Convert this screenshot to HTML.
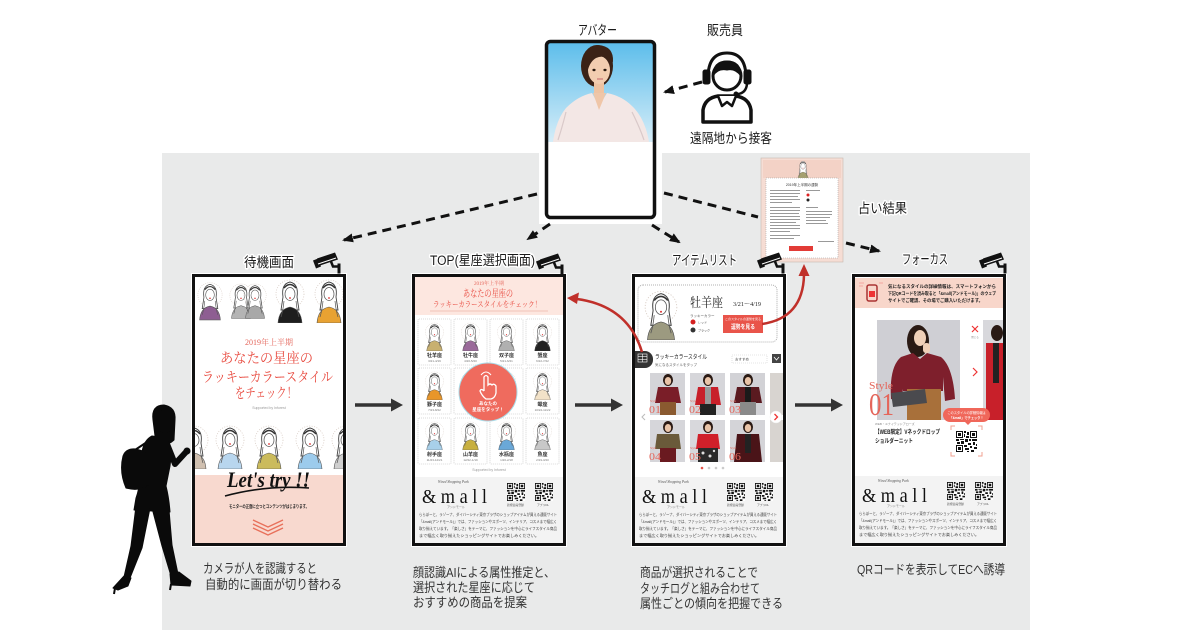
<!DOCTYPE html>
<html><head><meta charset="utf-8">
<style>
html,body{margin:0;padding:0;background:#fff}
svg{display:block}
.s{font-family:"Liberation Sans","Noto Sans CJK JP",sans-serif}
.m{font-family:"Liberation Serif","Noto Serif CJK SC",serif}
.lbl{font-family:"Liberation Sans","Noto Sans CJK JP",sans-serif;font-size:13.5px;fill:#1a1a1a;paint-order:stroke;stroke:#fff;stroke-width:3px;stroke-linejoin:round}
.cap{font-family:"Liberation Sans","Noto Sans CJK JP",sans-serif;font-size:13px;fill:#333}
</style></head><body>
<svg width="1200" height="630" viewBox="0 0 1200 630" xmlns="http://www.w3.org/2000/svg">
<defs>
<linearGradient id="sky" x1="0" y1="0" x2="0" y2="1"><stop offset="0" stop-color="#5cbdeb"/><stop offset="1" stop-color="#d6edf8"/></linearGradient>
<clipPath id="cl"><rect width="148" height="266"/></clipPath>
<symbol id="girl" viewBox="0 0 30 46">
<circle cx="15" cy="17" r="14" fill="none" stroke="#d8ccc4" stroke-width=".8" stroke-dasharray="1 1.5"/>
<path d="M8 20 Q6 7 15 5 Q24 7 22 20 L24 33 L6 33 Z" fill="#fff" stroke="#444" stroke-width=".9"/>
<ellipse cx="15" cy="17" rx="5" ry="6.5" fill="#fff" stroke="#555" stroke-width=".7"/>
<path d="M9 11 Q15 4 21 11" stroke="#333" fill="none" stroke-width="1.4"/>
<circle cx="15" cy="21" r=".9" fill="#d33"/>
<path d="M3 46 Q4 32 15 30 Q26 32 27 46 Z" fill="currentColor" stroke="#555" stroke-width=".6"/>
<path d="M9 24 Q8 34 6 40 M21 24 Q22 34 24 40" stroke="#555" fill="none" stroke-width=".7"/>
</symbol>
<symbol id="qr" viewBox="0 0 21 21">
<rect width="21" height="21" fill="#fff"/>
<path d="M0 0h7v7H0zM14 0h7v7h-7zM0 14h7v7H0z" fill="#111"/>
<path d="M1 1h5v5H1zM15 1h5v5h-5zM1 15h5v5H1z" fill="#fff"/>
<path d="M2 2h3v3H2zM16 2h3v3h-3zM2 16h3v3H2zM8 0h2v2H8zM11 1h2v3h-2zM8 3h1v3H8zM10 5h3v2h-3zM0 8h3v2H0zM4 8h4v1H4zM9 8h3v3H9zM13 8h2v2h-2zM16 8h5v2h-5zM1 11h3v2H1zM5 10h3v3H5zM12 12h3v2h-3zM17 11h2v3h-2zM8 14h3v2H8zM14 15h2v2h-2zM18 16h3v2h-3zM9 17h4v2H9zM15 19h3v2h-3zM11 20h2v1h-2zM20 13h1v2h-1z" fill="#111"/>
</symbol>
<symbol id="cam" viewBox="0 0 30 22">
<polygon points="5,7 23,1 26,8 8,14" fill="#111"/>
<polygon points="1,9 6,7 9,15 4,17" fill="#111"/>
<line x1="6" y1="12.5" x2="24" y2="6.5" stroke="#fff" stroke-width="1"/>
<path d="M19 10 L21 15 L27 15" stroke="#111" stroke-width="2.5" fill="none"/>
<line x1="27" y1="12" x2="27" y2="22" stroke="#111" stroke-width="3"/>
</symbol>
<marker id="ah" markerWidth="11" markerHeight="9" refX="9" refY="4.5" orient="auto" markerUnits="userSpaceOnUse"><path d="M0,0 L11,4.5 L0,9 Z" fill="#111"/></marker>
</defs>

<!-- gray background -->
<rect x="162" y="153" width="868" height="477" fill="#e9eaea"/>

<!-- top labels -->
<text class="lbl" x="578" y="35" textLength="39" lengthAdjust="spacingAndGlyphs">アバター</text>
<text class="lbl" x="707" y="35" textLength="36" lengthAdjust="spacingAndGlyphs">販売員</text>
<text class="lbl" x="690" y="143" textLength="82" lengthAdjust="spacingAndGlyphs">遠隔地から接客</text>
<text class="lbl" x="858" y="213" textLength="49" lengthAdjust="spacingAndGlyphs">占い結果</text>

<!-- headset icon -->
<g stroke="#111" stroke-linejoin="round">
<path d="M703 122 L703 110 Q705 98 718 96 L736 96 Q749 98 751 110 L751 122 Z" fill="#fff" stroke-width="3.5"/>
<path d="M718 96 L722 106 L727 102 L732 106 L736 96" fill="#fff" stroke-width="2.5"/>
<circle cx="727" cy="76" r="14" fill="#fff" stroke-width="3"/>
<path d="M713 76 Q713 61 727 61 Q741 61 741 76 Q735 68 727 70 Q718 68 713 76 Z" fill="#111" stroke-width="1"/>
<path d="M708 78 Q708 53 727 53 Q746 53 746 78" fill="none" stroke-width="3"/>
<rect x="703" y="70" width="7" height="14" rx="2" fill="#111" stroke-width="1"/>
<rect x="744" y="70" width="7" height="14" rx="2" fill="#111" stroke-width="1"/>
<path d="M747 84 Q746 93 738 94" fill="none" stroke-width="2.5"/>
<circle cx="736" cy="94" r="2" fill="#111" stroke-width="1"/>
</g>

<!-- avatar box -->
<rect x="539" y="36" width="123" height="188" fill="#fff"/>
<rect x="547" y="42" width="107" height="100" fill="url(#sky)"/>
<ellipse cx="597" cy="66" rx="16" ry="21" fill="#3b2216"/>
<rect x="594" y="80" width="10" height="15" fill="#eec3a2"/>
<path d="M553 142 Q556 120 566 108 Q578 96 592 93 L599 106 L607 93 Q622 96 632 106 Q645 118 649 142 Z" fill="#f3e7e5"/>
<path d="M593 93 L599 110 L606 93 Z" fill="#efc6a8"/>
<path d="M566 112 Q562 128 558 140 M632 112 Q640 128 644 140" stroke="#d9c9c9" stroke-width="1.2" fill="none"/>
<ellipse cx="599" cy="70" rx="11" ry="14" fill="#f2cdb0"/>
<path d="M584 68 Q582 46 598 45 Q614 46 613 62 Q605 54 596 58 Q589 62 587 74 Z" fill="#3b2216"/>
<ellipse cx="594" cy="70" rx="1.6" ry="1.2" fill="#2a1a10"/>
<ellipse cx="605" cy="70" rx="1.6" ry="1.2" fill="#2a1a10"/>
<path d="M597 79 L603 79" stroke="#c77" stroke-width="1.2"/>
<rect x="546.5" y="41.5" width="108" height="176" rx="4" fill="none" stroke="#111" stroke-width="3.5"/>

<!-- dashed connectors -->
<g stroke="#111" stroke-width="3" stroke-dasharray="9 6" fill="none">
<path d="M702 82 L665 92" marker-end="url(#ah)"/>
<path d="M537 194 L344 240" marker-end="url(#ah)"/>
<path d="M550 224 L528 239" marker-end="url(#ah)"/>
<path d="M652 225 L679 242" marker-end="url(#ah)"/>
<path d="M664 193 L758 217"/>
<path d="M846 243 L879 251" marker-end="url(#ah)"/>
</g>

<!-- fortune card -->
<g>
<rect x="761" y="158" width="82" height="104" fill="#f6ddd4" stroke="#c8b8b0" stroke-width=".6"/>
<rect x="763" y="160" width="78" height="18" fill="#f3d2c6"/>
<use href="#girl" x="795" y="159" width="16" height="20" color="#a5a070"/>
<rect x="766" y="178" width="72" height="80" fill="#fff" stroke="#999" stroke-width=".5" stroke-dasharray="1 1"/>
<text x="802" y="186" text-anchor="middle" class="s" font-size="3.5" fill="#333">2019年上半期の運勢</text>
<g fill="#999">
<rect x="770" y="190" width="30" height="1"/><rect x="770" y="193" width="30" height="1"/><rect x="770" y="196" width="28" height="1"/><rect x="770" y="199" width="30" height="1"/><rect x="770" y="202" width="22" height="1"/>
<rect x="770" y="207" width="30" height="1"/><rect x="770" y="210" width="30" height="1"/><rect x="770" y="213" width="29" height="1"/><rect x="770" y="216" width="30" height="1"/><rect x="770" y="219" width="30" height="1"/><rect x="770" y="222" width="26" height="1"/><rect x="770" y="225" width="30" height="1"/><rect x="770" y="228" width="30" height="1"/><rect x="770" y="231" width="20" height="1"/>
<rect x="770" y="235" width="30" height="1"/><rect x="770" y="238" width="24" height="1"/>
<rect x="806" y="190" width="14" height="1"/><rect x="806" y="207" width="12" height="1"/>
<rect x="806" y="211" width="26" height="1"/><rect x="806" y="214" width="26" height="1"/><rect x="806" y="217" width="24" height="1"/><rect x="806" y="220" width="20" height="1"/><rect x="806" y="223" width="22" height="1"/>
<rect x="818" y="241" width="16" height="1"/>
</g>
<circle cx="808" cy="195" r="1.5" fill="#d22"/><circle cx="808" cy="200" r="1.5" fill="#222"/>
<rect x="789" y="246" width="24" height="5" fill="#e23b36"/>
</g>

<!-- screen labels -->
<text class="lbl" x="244" y="267" textLength="50" lengthAdjust="spacingAndGlyphs">待機画面</text>
<text class="lbl" x="430" y="265" textLength="105" lengthAdjust="spacingAndGlyphs">TOP(星座選択画面)</text>
<text class="lbl" x="672" y="265" textLength="65" lengthAdjust="spacingAndGlyphs">アイテムリスト</text>
<text class="lbl" x="902" y="264" textLength="46" lengthAdjust="spacingAndGlyphs">フォーカス</text>

<!-- ================= SCREEN 1 ================= -->
<g transform="translate(192,274)">
<rect x="-1" y="-1" width="156" height="274" fill="#fff"/>
<g transform="translate(3,3)" clip-path="url(#cl)">
<rect width="148" height="266" fill="#fff"/>
<use href="#girl" x="2" y="0" width="26" height="46" color="#8e5e92"/>
<use href="#girl" x="34" y="0" width="24" height="46" color="#b4b4b4"/>
<use href="#girl" x="48" y="0" width="24" height="46" color="#a8a8a8"/>
<use href="#girl" x="80" y="0" width="30" height="46" color="#1e1e1e"/>
<use href="#girl" x="119" y="0" width="30" height="46" color="#e8a232"/>
<text x="74" y="68" text-anchor="middle" class="m" font-size="8" fill="#e4655a">2019年上半期</text>
<text x="25" y="86" class="m" font-size="14" fill="#e84a3f" textLength="93" lengthAdjust="spacingAndGlyphs">あなたの星座の</text>
<text x="7" y="105" class="m" font-size="14" fill="#e84a3f" textLength="131" lengthAdjust="spacingAndGlyphs">ラッキーカラースタイル</text>
<text x="40" y="121" class="m" font-size="14" fill="#e84a3f" textLength="62" lengthAdjust="spacingAndGlyphs">をチェック！</text>
<text x="74" y="132" text-anchor="middle" class="s" font-size="3.5" fill="#999">Supported by Inforest</text>
<use href="#girl" x="-16" y="146" width="30" height="46" color="#d0c0b0"/>
<use href="#girl" x="19" y="146" width="32" height="46" color="#b8d6ee"/>
<use href="#girl" x="57" y="146" width="34" height="46" color="#cbbb5c"/>
<use href="#girl" x="99" y="146" width="32" height="46" color="#9ccbec"/>
<use href="#girl" x="136" y="146" width="30" height="46" color="#cfcfcf"/>
<rect y="198" width="148" height="68" fill="#f8d9cf"/>
<text x="32" y="210" class="m" font-size="22" font-style="italic" font-weight="bold" fill="#111" textLength="83" lengthAdjust="spacingAndGlyphs">Let's try !!</text>
<path d="M30 219 Q70 208 114 211" stroke="#111" stroke-width="1.6" fill="none"/>
<text x="34" y="231" class="s" font-size="4.5" font-weight="bold" fill="#222" textLength="80" lengthAdjust="spacingAndGlyphs">モニターの正面に立つとコンテンツがはじまります。</text>
<g stroke="#e8705a" stroke-width="1.4" fill="none">
<polyline points="58,243 73,250 88,243"/><polyline points="58,247 73,254 88,247"/><polyline points="58,251 73,258 88,251"/>
</g>
</g>
<rect x="1.5" y="1.5" width="151" height="269" fill="none" stroke="#111" stroke-width="3"/>
</g>

<!-- ================= SCREEN 2 ================= -->
<g transform="translate(412,274)">
<rect x="-1" y="-1" width="156" height="274" fill="#fff"/>
<g transform="translate(3,3)" clip-path="url(#cl)">
<rect width="148" height="266" fill="#fff"/>
<rect width="148" height="38" fill="#fde7e0"/>
<text x="74" y="8" text-anchor="middle" class="m" font-size="5" fill="#e4655a">2019年上半期</text>
<text x="48" y="20" class="m" font-size="10" fill="#e84a3f" textLength="50" lengthAdjust="spacingAndGlyphs">あなたの星座の</text>
<text x="18" y="30" class="m" font-size="8" fill="#e84a3f" textLength="108" lengthAdjust="spacingAndGlyphs">ラッキーカラースタイルをチェック！</text>
<line x1="15" y1="34" x2="133" y2="34" stroke="#e6a090" stroke-width=".6"/>
<g stroke="#b8b8b8" stroke-width=".6" stroke-dasharray="1 1" fill="#fff">
<rect x="3" y="42" width="33" height="46" rx="1"/><rect x="39" y="42" width="33" height="46" rx="1"/><rect x="75" y="42" width="33" height="46" rx="1"/><rect x="111" y="42" width="33" height="46" rx="1"/>
<rect x="3" y="91" width="33" height="46" rx="1"/><rect x="39" y="91" width="33" height="46" rx="1"/><rect x="75" y="91" width="33" height="46" rx="1"/><rect x="111" y="91" width="33" height="46" rx="1"/>
<rect x="3" y="141" width="33" height="46" rx="1"/><rect x="39" y="141" width="33" height="46" rx="1"/><rect x="75" y="141" width="33" height="46" rx="1"/><rect x="111" y="141" width="33" height="46" rx="1"/>
</g>
<use href="#girl" x="6" y="44" width="27" height="30" color="#c8b070"/>
<use href="#girl" x="42" y="44" width="27" height="30" color="#9a6a9a"/>
<use href="#girl" x="78" y="44" width="27" height="30" color="#b0b0b0"/>
<use href="#girl" x="114" y="44" width="27" height="30" color="#222"/>
<use href="#girl" x="6" y="93" width="27" height="30" color="#e8962a"/>
<use href="#girl" x="42" y="93" width="27" height="30" color="#ddd"/>
<use href="#girl" x="78" y="93" width="27" height="30" color="#ddd"/>
<use href="#girl" x="114" y="93" width="27" height="30" color="#f2e2c8"/>
<use href="#girl" x="6" y="143" width="27" height="30" color="#a8d0ea"/>
<use href="#girl" x="42" y="143" width="27" height="30" color="#c8b040"/>
<use href="#girl" x="78" y="143" width="27" height="30" color="#6aa8d8"/>
<use href="#girl" x="114" y="143" width="27" height="30" color="#c8c8c8"/>
<g class="s" font-size="5" font-weight="bold" fill="#333" text-anchor="middle">
<text x="19.5" y="80">牡羊座</text><text x="55.5" y="80">牡牛座</text><text x="91.5" y="80">双子座</text><text x="127.5" y="80">蟹座</text>
<text x="19.5" y="129">獅子座</text><text x="55.5" y="129">乙女座</text><text x="91.5" y="129">天秤座</text><text x="127.5" y="129">蠍座</text>
<text x="19.5" y="179">射手座</text><text x="55.5" y="179">山羊座</text><text x="91.5" y="179">水瓶座</text><text x="127.5" y="179">魚座</text>
</g>
<g class="s" font-size="3" fill="#777" text-anchor="middle">
<text x="19.5" y="85">3/21-4/19</text><text x="55.5" y="85">4/20-5/20</text><text x="91.5" y="85">5/21-6/21</text><text x="127.5" y="85">6/22-7/22</text>
<text x="19.5" y="134">7/23-8/22</text><text x="127.5" y="134">10/24-11/22</text>
<text x="19.5" y="184">11/23-12/21</text><text x="55.5" y="184">12/22-1/19</text><text x="91.5" y="184">1/20-2/18</text><text x="127.5" y="184">2/19-3/20</text>
</g>
<circle cx="73" cy="115" r="29" fill="#ef6b5e" stroke="#a8dbe8" stroke-width="1"/>
<path d="M69 114 L69 100 Q71 97 73 100 L73 108 Q75 106 77 108 Q79 106 81 109 L81 116 Q80 121 76 122 L71 122 Q67 119 65 114 Q66 111 69 114" fill="none" stroke="#fff" stroke-width="1.3"/>
<path d="M66 98 Q71 92 76 98" fill="none" stroke="#fff" stroke-width="1"/>
<text x="73" y="128" text-anchor="middle" class="s" font-size="4.5" font-weight="bold" fill="#fff">あなたの</text>
<text x="73" y="134" text-anchor="middle" class="s" font-size="4.5" font-weight="bold" fill="#fff">星座をタップ！</text>
<text x="74" y="194" text-anchor="middle" class="s" font-size="3.5" fill="#999">Supported by Inforest</text>
<g transform="translate(0,200)">
<rect width="148" height="66" fill="#f3f3f3"/>
<text x="23" y="6" class="m" font-size="3.6" font-style="italic" fill="#555">Wired Shopping Park</text>
<text x="7" y="26" class="m" font-size="20" fill="#111" textLength="65" lengthAdjust="spacingAndGlyphs">&amp; m a l l</text>
<text x="32" y="31" class="s" font-size="3" fill="#777">アンドモール</text>
<use href="#qr" x="92" y="6" width="18" height="18"/>
<use href="#qr" x="120" y="6" width="18" height="18"/>
<text x="92" y="29" class="s" font-size="2.8" fill="#555">新規会員登録</text>
<text x="122" y="29" class="s" font-size="2.8" fill="#555">アプリDL</text>
<g class="s" font-size="4" fill="#444">
<text x="4" y="39" textLength="138" lengthAdjust="spacingAndGlyphs">ららぽーと、ラゾーナ、ダイバーシティ東京プラザのショップアイテムが買える通販サイト</text>
<text x="4" y="46" textLength="138" lengthAdjust="spacingAndGlyphs">「&amp;mall(アンドモール)」では、ファッションやスポーツ、インテリア、コスメまで幅広く</text>
<text x="4" y="53" textLength="138" lengthAdjust="spacingAndGlyphs">取り揃えています。「楽しさ」をテーマに、ファッションを中心にライフスタイル商品</text>
<text x="4" y="60" textLength="120" lengthAdjust="spacingAndGlyphs">まで幅広く取り揃えたショッピングサイトでお楽しみください。</text>
</g>
</g>
</g>
<rect x="1.5" y="1.5" width="151" height="269" fill="none" stroke="#111" stroke-width="3"/>
</g>

<!-- ================= SCREEN 3 ================= -->
<g transform="translate(632,274)">
<rect x="-1" y="-1" width="156" height="274" fill="#fff"/>
<g transform="translate(3,3)" clip-path="url(#cl)">
<rect width="148" height="266" fill="#fff"/>
<rect x="3" y="8" width="139" height="57" rx="5" fill="#fff" stroke="#999" stroke-width=".8" stroke-dasharray="1 1"/>
<use href="#girl" x="6" y="11" width="40" height="52" color="#9c9a80"/>
<text x="55" y="30" class="m" font-size="13" fill="#222" textLength="33" lengthAdjust="spacingAndGlyphs">牡羊座</text>
<text x="98" y="29" class="m" font-size="6" fill="#222" textLength="28" lengthAdjust="spacingAndGlyphs">3/21～4/19</text>
<text x="55" y="40" class="s" font-size="3.5" fill="#555">ラッキーカラー</text>
<circle cx="58" cy="45" r="2.5" fill="#d42020"/><text x="63" y="46.5" class="s" font-size="3" fill="#555">レッド</text>
<circle cx="58" cy="53" r="2.5" fill="#333"/><text x="63" y="54.5" class="s" font-size="3" fill="#555">ブラック</text>
<rect x="88" y="38" width="40" height="18" fill="#e9544a"/>
<text x="108" y="43" text-anchor="middle" class="s" font-size="3" fill="#fff">このスタイルの運勢を見る</text>
<text x="96" y="52" class="s" font-size="6" font-weight="bold" fill="#fff" textLength="24" lengthAdjust="spacingAndGlyphs">運勢を見る</text>
<rect x="-8" y="74" width="26" height="17" rx="8" fill="#333"/>
<g stroke="#fff" stroke-width=".6" fill="none"><rect x="3" y="77" width="9" height="8"/><line x1="3" y1="79.7" x2="12" y2="79.7"/><line x1="3" y1="82.4" x2="12" y2="82.4"/><line x1="7.5" y1="77" x2="7.5" y2="85"/></g>
<text x="20" y="82" class="s" font-size="6" fill="#222" textLength="52" lengthAdjust="spacingAndGlyphs">ラッキーカラースタイル</text>
<text x="20" y="89" class="s" font-size="3.5" fill="#666">気になるスタイルをタップ</text>
<rect x="97" y="78" width="35" height="8" fill="#fff" stroke="#ccc" stroke-width=".6" stroke-dasharray="1 1"/>
<text x="100" y="83.5" class="s" font-size="3.5" fill="#444">おすすめ</text>
<rect x="137" y="77" width="9" height="9" fill="#444"/><path d="M139 80 L141.5 83 L144 80" stroke="#fff" stroke-width=".8" fill="none"/>
<!-- photos -->
<g>
<rect x="15" y="96" width="35" height="42" fill="#d4d4d8"/><rect x="55" y="96" width="35" height="42" fill="#d6d6da"/><rect x="95" y="96" width="35" height="42" fill="#d2d2d6"/><rect x="135" y="96" width="13" height="42" fill="#d8d4d0"/>
<rect x="15" y="143" width="35" height="42" fill="#d6d6da"/><rect x="55" y="143" width="35" height="42" fill="#d8d8dc"/><rect x="95" y="143" width="35" height="42" fill="#d4d4d8"/><rect x="135" y="143" width="13" height="42" fill="#d8d4d0"/>
</g>
<g>
<ellipse cx="33" cy="103" rx="5" ry="6" fill="#2a1a14"/><ellipse cx="33" cy="104" rx="3.2" ry="4" fill="#e9c4a8"/><path d="M23 110 L43 110 L46 126 L20 126 Z" fill="#7a1e28"/><rect x="25" y="125" width="16" height="13" fill="#8a5a30"/>
<ellipse cx="73" cy="103" rx="5" ry="6" fill="#2a1a14"/><ellipse cx="73" cy="104" rx="3.2" ry="4" fill="#e9c4a8"/><path d="M63 110 L83 110 L86 128 L60 128 Z" fill="#c8202a"/><rect x="70" y="110" width="6" height="17" fill="#999"/><rect x="65" y="127" width="16" height="11" fill="#222"/>
<ellipse cx="113" cy="103" rx="5" ry="6" fill="#2a1a14"/><ellipse cx="113" cy="104" rx="3.2" ry="4" fill="#e9c4a8"/><path d="M102 110 L124 110 L127 126 L99 126 Z" fill="#5a1a20"/><rect x="110" y="110" width="6" height="15" fill="#1a1a1a"/><rect x="105" y="125" width="16" height="13" fill="#8a8a8a"/>
<ellipse cx="33" cy="150" rx="5" ry="6" fill="#2a1a14"/><ellipse cx="33" cy="151" rx="3.2" ry="4" fill="#e9c4a8"/><path d="M22 157 L44 157 L46 172 L20 172 Z" fill="#6a5a3a"/><rect x="25" y="171" width="16" height="14" fill="#6a1a20"/>
<ellipse cx="73" cy="150" rx="5" ry="6" fill="#2a1a14"/><ellipse cx="73" cy="151" rx="3.2" ry="4" fill="#e9c4a8"/><path d="M63 157 L83 157 L85 172 L61 172 Z" fill="#d0202a"/><rect x="63" y="171" width="20" height="14" fill="#2a2a2a"/><circle cx="68" cy="176" r="1.5" fill="#ddd"/><circle cx="75" cy="179" r="1.5" fill="#ddd"/><circle cx="79" cy="174" r="1.2" fill="#ddd"/>
<ellipse cx="113" cy="150" rx="5" ry="6" fill="#2a1a14"/><ellipse cx="113" cy="151" rx="3.2" ry="4" fill="#e9c4a8"/><path d="M102 157 L124 157 L127 185 L99 185 Z" fill="#4a1418"/><rect x="110" y="157" width="6" height="19" fill="#222"/>
</g>
<g class="m" fill="#e4655a">
<text x="15" y="125" font-size="3">Style</text><text x="14" y="136" font-size="11" textLength="12" lengthAdjust="spacingAndGlyphs">01</text>
<text x="55" y="125" font-size="3">Style</text><text x="54" y="136" font-size="11" textLength="12" lengthAdjust="spacingAndGlyphs">02</text>
<text x="95" y="125" font-size="3">Style</text><text x="94" y="136" font-size="11" textLength="12" lengthAdjust="spacingAndGlyphs">03</text>
<text x="15" y="172" font-size="3">Style</text><text x="14" y="183" font-size="11" textLength="12" lengthAdjust="spacingAndGlyphs">04</text>
<text x="55" y="172" font-size="3">Style</text><text x="54" y="183" font-size="11" textLength="12" lengthAdjust="spacingAndGlyphs">05</text>
<text x="95" y="172" font-size="3">Style</text><text x="94" y="183" font-size="11" textLength="12" lengthAdjust="spacingAndGlyphs">06</text>
</g>
<path d="M10 137 L7 140 L10 143" stroke="#bbb" stroke-width="1" fill="none"/>
<circle cx="141" cy="140" r="6" fill="#fff" stroke="#eee" stroke-width=".5"/><path d="M139.5 137 L142.5 140 L139.5 143" stroke="#e33" stroke-width="1.3" fill="none"/>
<circle cx="67" cy="191" r="1.3" fill="#e4554a"/><circle cx="74" cy="191" r="1.3" fill="#ccc"/><circle cx="81" cy="191" r="1.3" fill="#ccc"/><circle cx="88" cy="191" r="1.3" fill="#ccc"/>
<g transform="translate(0,200)">
<rect width="148" height="66" fill="#f3f3f3"/>
<text x="23" y="6" class="m" font-size="3.6" font-style="italic" fill="#555">Wired Shopping Park</text>
<text x="7" y="26" class="m" font-size="20" fill="#111" textLength="65" lengthAdjust="spacingAndGlyphs">&amp; m a l l</text>
<text x="32" y="31" class="s" font-size="3" fill="#777">アンドモール</text>
<use href="#qr" x="92" y="6" width="18" height="18"/>
<use href="#qr" x="120" y="6" width="18" height="18"/>
<text x="92" y="29" class="s" font-size="2.8" fill="#555">新規会員登録</text>
<text x="122" y="29" class="s" font-size="2.8" fill="#555">アプリDL</text>
<g class="s" font-size="4" fill="#444">
<text x="4" y="39" textLength="138" lengthAdjust="spacingAndGlyphs">ららぽーと、ラゾーナ、ダイバーシティ東京プラザのショップアイテムが買える通販サイト</text>
<text x="4" y="46" textLength="138" lengthAdjust="spacingAndGlyphs">「&amp;mall(アンドモール)」では、ファッションやスポーツ、インテリア、コスメまで幅広く</text>
<text x="4" y="53" textLength="138" lengthAdjust="spacingAndGlyphs">取り揃えています。「楽しさ」をテーマに、ファッションを中心にライフスタイル商品</text>
<text x="4" y="60" textLength="120" lengthAdjust="spacingAndGlyphs">まで幅広く取り揃えたショッピングサイトでお楽しみください。</text>
</g>
</g>
</g>
<rect x="1.5" y="1.5" width="151" height="269" fill="none" stroke="#111" stroke-width="3"/>
</g>

<!-- ================= SCREEN 4 ================= -->
<g transform="translate(852,274)">
<rect x="-1" y="-1" width="156" height="274" fill="#fff"/>
<g transform="translate(3,3)" clip-path="url(#cl)">
<rect width="148" height="266" fill="#fff"/>
<rect y="1" width="148" height="30" fill="#f8d6ca"/>
<rect x="12" y="8" width="10" height="16" rx="2" fill="none" stroke="#a33" stroke-width="1.5"/>
<path d="M14 14 L20 14 L20 20 L14 20 Z" fill="#e33"/>
<path d="M4 6 L9 6 M4 9 L8 9 M24 6 L28 6" stroke="#e77" stroke-width=".6"/>
<g class="s" font-size="4.5" font-weight="bold" fill="#222">
<text x="33" y="11" textLength="108" lengthAdjust="spacingAndGlyphs">気になるスタイルの詳細情報は、スマートフォンから</text>
<text x="33" y="18" textLength="108" lengthAdjust="spacingAndGlyphs">下記QRコードを読み取ると「&amp;mall(アンドモール)」のウェブ</text>
<text x="33" y="25" textLength="95" lengthAdjust="spacingAndGlyphs">サイトでご確認、その場でご購入いただけます。</text>
</g>
<rect x="22" y="43" width="83" height="100" fill="#cfcfd4"/>
<ellipse cx="63" cy="64" rx="11" ry="16" fill="#2a1a14"/>
<ellipse cx="65" cy="61" rx="6" ry="8" fill="#f0d0b8"/>
<path d="M36 122 Q34 90 46 80 L58 76 L65 82 L72 76 L86 80 Q98 90 100 122 L90 124 L88 100 L50 100 L46 124 Z" fill="#7e1f2c"/>
<rect x="48" y="84" width="40" height="30" fill="#7e1f2c"/>
<rect x="68" y="66" width="7" height="10" rx="3" fill="#f0d0b8"/>
<rect x="52" y="112" width="34" height="31" fill="#a8703a"/>
<polygon points="36,116 70,112 72,126 38,130" fill="#4a4a4e"/>
<rect x="113" y="43" width="14" height="65" fill="#fff"/>
<path d="M117 49 L123 55 M123 49 L117 55" stroke="#e33" stroke-width="1.2"/>
<text x="120" y="61" text-anchor="middle" class="s" font-size="2.5" fill="#888">閉じる</text>
<path d="M118 91 L122 95 L118 99" stroke="#e33" stroke-width="1.2" fill="none"/>
<rect x="128" y="43" width="22" height="100" fill="#d8d8dc"/>
<ellipse cx="142" cy="56" rx="6" ry="8" fill="#2a1a14"/>
<rect x="131" y="66" width="19" height="77" fill="#c8202a"/>
<rect x="138" y="66" width="6" height="40" fill="#222"/>
<text x="14" y="112" class="m" font-size="11" fill="#e4655a" textLength="24" lengthAdjust="spacingAndGlyphs">Style</text>
<text x="14" y="138" class="m" font-size="32" fill="#e4655a" textLength="25" lengthAdjust="spacingAndGlyphs">01</text>
<rect x="88" y="131" width="47" height="14" rx="7" fill="#f0675a"/>
<path d="M110 145 L116 145 L113 148 Z" fill="#f0675a"/>
<text x="111.5" y="137" text-anchor="middle" class="s" font-size="3.2" fill="#fff">このスタイルの詳細情報は</text>
<text x="111.5" y="142" text-anchor="middle" class="s" font-size="3.2" font-weight="bold" fill="#fff">「&amp;mall」でチェック！</text>
<use href="#qr" x="101" y="154" width="21" height="21"/>
<path d="M96 153 L96 149 L100 149 M123 149 L127 149 L127 153 M127 175 L127 179 L123 179 M100 179 L96 179 L96 175" stroke="#f0a090" stroke-width="1" fill="none"/>
<text x="20" y="148" class="s" font-size="3" fill="#888">WEB・ユナイテッドアローズ</text>
<text x="20" y="157" class="s" font-size="6" font-weight="bold" fill="#222" textLength="65" lengthAdjust="spacingAndGlyphs">【WEB限定】Vネックドロップ</text>
<text x="20" y="166" class="s" font-size="6" font-weight="bold" fill="#222" textLength="38" lengthAdjust="spacingAndGlyphs">ショルダーニット</text>
<g transform="translate(0,199)">
<rect width="148" height="67" fill="#f3f3f3"/>
<text x="23" y="6" class="m" font-size="3.6" font-style="italic" fill="#555">Wired Shopping Park</text>
<text x="7" y="26" class="m" font-size="20" fill="#111" textLength="65" lengthAdjust="spacingAndGlyphs">&amp; m a l l</text>
<text x="32" y="31" class="s" font-size="3" fill="#777">アンドモール</text>
<use href="#qr" x="92" y="6" width="18" height="18"/>
<use href="#qr" x="120" y="6" width="18" height="18"/>
<text x="92" y="29" class="s" font-size="2.8" fill="#555">新規会員登録</text>
<text x="122" y="29" class="s" font-size="2.8" fill="#555">アプリDL</text>
<g class="s" font-size="4" fill="#444">
<text x="4" y="39" textLength="138" lengthAdjust="spacingAndGlyphs">ららぽーと、ラゾーナ、ダイバーシティ東京プラザのショップアイテムが買える通販サイト</text>
<text x="4" y="46" textLength="138" lengthAdjust="spacingAndGlyphs">「&amp;mall(アンドモール)」では、ファッションやスポーツ、インテリア、コスメまで幅広く</text>
<text x="4" y="53" textLength="138" lengthAdjust="spacingAndGlyphs">取り揃えています。「楽しさ」をテーマに、ファッションを中心にライフスタイル商品</text>
<text x="4" y="60" textLength="120" lengthAdjust="spacingAndGlyphs">まで幅広く取り揃えたショッピングサイトでお楽しみください。</text>
</g>
</g>
</g>
<rect x="1.5" y="1.5" width="151" height="269" fill="none" stroke="#111" stroke-width="3"/>
</g>

<!-- cameras -->
<use href="#cam" x="312" y="251" width="30" height="23"/>
<use href="#cam" x="535" y="252" width="30" height="23"/>
<use href="#cam" x="756" y="251" width="30" height="23"/>
<use href="#cam" x="978" y="251" width="30" height="23"/>

<!-- horizontal arrows -->
<g stroke="#333" stroke-width="3.5">
<line x1="355" y1="405" x2="394" y2="405"/>
<line x1="575" y1="405" x2="614" y2="405"/>
<line x1="795" y1="405" x2="834" y2="405"/>
</g>
<g fill="#333">
<polygon points="391,398.5 403,405 391,411.5"/>
<polygon points="611,398.5 623,405 611,411.5"/>
<polygon points="831,398.5 843,405 831,411.5"/>
</g>

<!-- red arrows -->
<g stroke="#c0302a" stroke-width="2.5" fill="none">
<path d="M642 352 Q628 306 577 299"/>
<path d="M762 324 Q803 318 804 275"/>
</g>
<g fill="#c0302a">
<polygon points="567,298 579,292.5 577,304"/>
<polygon points="804,264 798.5,276 809.5,276"/>
</g>

<!-- silhouette -->
<g fill="#0a0a0a" stroke="#0a0a0a" stroke-linejoin="round">
<!-- hair + head -->
<path d="M153 420 Q151 405 164 405 Q176 407 175 420 L174 440 Q168 446 158 444 L155 436 Z" stroke-width="1"/>
<ellipse cx="165" cy="421" rx="8.5" ry="11.5" stroke-width="1"/>
<!-- torso -->
<path d="M152 436 Q144 440 142 452 L140 478 Q139 490 136 498 L134 510 L170 512 Q169 498 166 486 L170 466 Q173 446 166 438 Z" stroke-width="1"/>
<!-- bag -->
<path d="M150 440 L132 452" fill="none" stroke-width="2"/>
<path d="M123 456 Q126 448 136 449 L146 452 L150 484 Q140 492 126 488 Q119 472 123 456 Z" stroke-width="1"/>
<!-- arm forward -->
<polyline points="167,444 175,464 186,452" fill="none" stroke-width="6" stroke-linecap="round"/>
<circle cx="187" cy="451" r="3.5" stroke-width="0"/>
<!-- back leg -->
<path d="M136 506 L150 508 L142 548 L130 578 L124 577 L131 546 Z" stroke-width="1"/>
<polygon points="113,588 124,576 131,578 128,586 118,590" stroke-width="1"/>
<line x1="115" y1="588" x2="114" y2="594" stroke-width="2"/>
<!-- front leg -->
<path d="M152 508 L169 510 L172 545 L178 574 L171 576 L162 546 Z" stroke-width="1"/>
<polygon points="170,574 179,572 191,581 190,586 171,585" stroke-width="1"/>
<line x1="171" y1="584" x2="170" y2="590" stroke-width="2"/>
</g>

<!-- captions -->
<text class="cap" x="203" y="573" textLength="114" lengthAdjust="spacingAndGlyphs">カメラが人を認識すると</text>
<text class="cap" x="205" y="589" textLength="137" lengthAdjust="spacingAndGlyphs">自動的に画面が切り替わる</text>
<text class="cap" x="413" y="577" textLength="142" lengthAdjust="spacingAndGlyphs">顔認識AIによる属性推定と、</text>
<text class="cap" x="413" y="592" textLength="122" lengthAdjust="spacingAndGlyphs">選択された星座に応じて</text>
<text class="cap" x="413" y="607" textLength="114" lengthAdjust="spacingAndGlyphs">おすすめの商品を提案</text>
<text class="cap" x="640" y="577" textLength="118" lengthAdjust="spacingAndGlyphs">商品が選択されることで</text>
<text class="cap" x="640" y="593" textLength="120" lengthAdjust="spacingAndGlyphs">タッチログと組み合わせて</text>
<text class="cap" x="640" y="608" textLength="143" lengthAdjust="spacingAndGlyphs">属性ごとの傾向を把握できる</text>
<text class="cap" x="857" y="574" textLength="148" lengthAdjust="spacingAndGlyphs">QRコードを表示してECへ誘導</text>
</svg>
</body></html>
